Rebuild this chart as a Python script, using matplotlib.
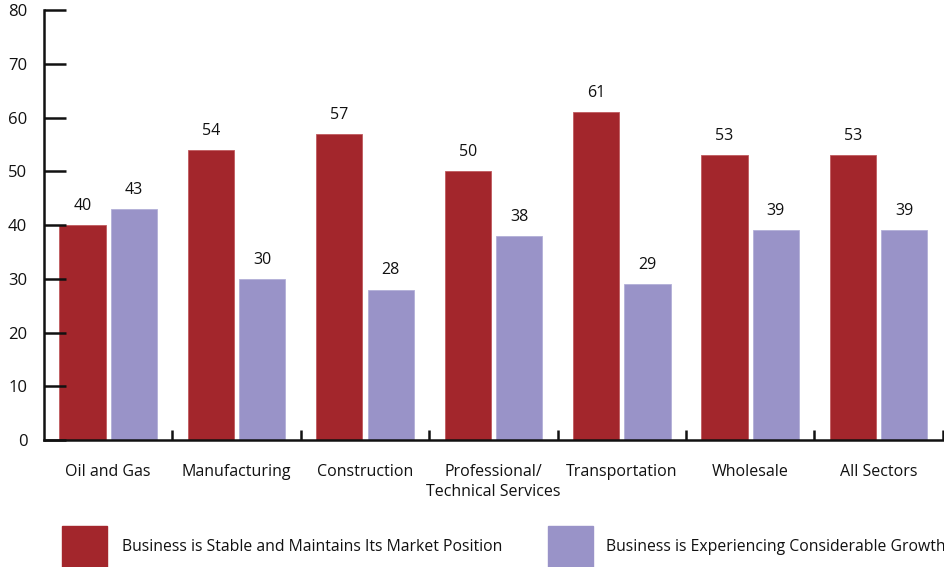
import matplotlib
matplotlib.use("Agg")
import matplotlib.pyplot as plt
from matplotlib.patches import Rectangle
import numpy as np

categories = ["Oil and Gas", "Manufacturing", "Construction",
              "Professional/\nTechnical Services", "Transportation",
              "Wholesale", "All Sectors"]
stable = [40, 54, 57, 50, 61, 53, 53]
growth = [43, 30, 28, 38, 29, 39, 39]
series_names = ["Business is Stable and Maintains Its Market Position",
                "Business is Experiencing Considerable Growth"]
yticks = [0, 10, 20, 30, 40, 50, 60, 70, 80]

RED = "#A3262C"
PURPLE = "#9993C8"
FONT = ["Open Sans", "DejaVu Sans"]

plt.rcParams["font.family"] = FONT

fig = plt.figure(figsize=(9.45, 5.67), dpi=100)
fig.patch.set_facecolor("white")
ax = fig.add_axes([0.0466, 0.224, 0.951, 0.758])

x = np.arange(len(categories))
w = 0.36
off = 0.2
b1 = ax.bar(x - off, stable, w, color=RED, edgecolor="#c05a5f", linewidth=0.6)
b2 = ax.bar(x + off, growth, w, color=PURPLE, edgecolor="#b3afd8", linewidth=0.6)

for bars, vals in ((b1, stable), (b2, growth)):
    for r, v in zip(bars, vals):
        ax.annotate(f"{v}", (r.get_x() + r.get_width() / 2, v),
                    xytext=(0, 8), textcoords="offset points",
                    ha="center", va="bottom", fontsize=11.5, color="#111111")

ax.set_xlim(-0.5, len(categories) - 0.5)
ax.set_ylim(0, 80)

for s in ("top", "right"):
    ax.spines[s].set_visible(False)
for s in ("left", "bottom"):
    ax.spines[s].set_linewidth(1.8)
    ax.spines[s].set_color("#111111")

ax.set_yticks(yticks)
ax.set_yticklabels([str(t) for t in yticks], fontsize=12)
ax.tick_params(axis="y", direction="in", length=16, width=1.8,
               pad=12, colors="#111111")

ax.set_xticks(x)
ax.set_xticklabels(categories, fontsize=11.5, va="top", linespacing=1.35)
ax.tick_params(axis="x", which="major", length=0, pad=17, colors="#111111")
ax.set_xticks(np.arange(len(categories)) + 0.5, minor=True)
ax.tick_params(axis="x", which="minor", direction="in", length=7,
               width=1.8, color="#111111")

# legend drawn as figure-level swatches and labels
for (xl, col, name, xt) in ((0.0656, RED, series_names[0], 0.129),
                            (0.580, PURPLE, series_names[1], 0.641)):
    fig.patches.append(Rectangle((xl, -0.02), 0.0476, 0.093,
                                 transform=fig.transFigure, color=col,
                                 figure=fig))
    fig.text(xt, 0.035, name, fontsize=11.3, va="center", ha="left",
             color="#111111")

fig.savefig("out.png", dpi=100, facecolor="white")
